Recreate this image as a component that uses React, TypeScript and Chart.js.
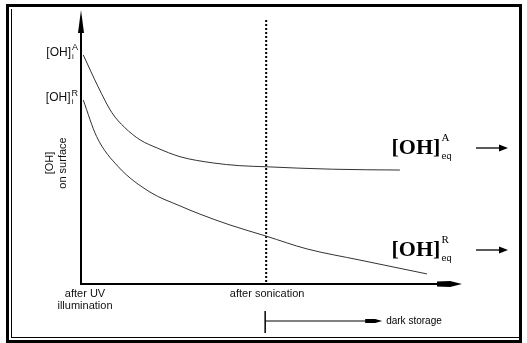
import React, { useEffect, useRef } from "react";
import { Chart, registerables } from "chart.js";

Chart.register(...registerables);

// ---- data (schematic, arbitrary units) ----
const timeA = [0.6, 4.5, 8.1, 11.5, 15.5, 20, 26, 34.7, 41.7, 48.7, 57, 66, 75, 83.7];
const ohSurfaceA = [84.2, 72.5, 63, 57.5, 53, 50, 46.8, 44.5, 43.5, 43.1, 42.6, 42.2, 42, 41.9];
const timeB = [0.6, 4.1, 9.8, 18.1, 26, 31.2, 39.1, 48.6, 59.3, 73.2, 90.8];
const ohSurfaceB = [67.6, 54.2, 43.1, 33.8, 28.7, 25.7, 21.7, 17.6, 12.9, 8.8, 3.7];

const sonicationTime = 48.6;
const xTickValues = [0, 48.6];
const xTickLabels = [["after UV", "illumination"], ["after sonication"]];
const yTickValues = [84.2, 67.6];
const yTickLabels = [
  { base: "[OH]", sub: "i", sup: "A" },
  { base: "[OH]", sub: "i", sup: "R" },
];
const eqLabels = [
  { base: "[OH]", sub: "eq", sup: "A" },
  { base: "[OH]", sub: "eq", sup: "R" },
];
const eqLabelValues = [50, 12.5];
const eqLabelTime = 81.5;
const yAxisTitle = ["[OH]", "on surface"];
const darkStorageLabel = "dark storage";

const SANS = '"Liberation Sans", Arial, sans-serif';
const SERIF = '"Liberation Serif", "Times New Roman", serif';

function drawComposite(
  ctx: CanvasRenderingContext2D,
  lab: { base: string; sub: string; sup: string },
  x: number,
  y: number,
  align: "left" | "right",
  baseFont: string,
  subFont: string,
  supFont: string,
  supDy: number,
  subDy: number
) {
  ctx.font = baseFont;
  const bw = ctx.measureText(lab.base).width;
  ctx.font = subFont;
  const sbw = ctx.measureText(lab.sub).width;
  ctx.font = supFont;
  const spw = ctx.measureText(lab.sup).width;
  const total = bw + 1 + Math.max(sbw, spw);
  const x0 = align === "right" ? x - total : x;
  ctx.textAlign = "left";
  ctx.textBaseline = "middle";
  ctx.font = baseFont;
  ctx.fillText(lab.base, x0, y);
  ctx.font = supFont;
  ctx.fillText(lab.sup, x0 + bw + 1, y + supDy);
  ctx.font = subFont;
  ctx.fillText(lab.sub, x0 + bw + 1, y + subDy);
  return x0 + total;
}

const diagramPlugin = {
  id: "diagram",
  beforeDraw(chart: any) {
    const ctx: CanvasRenderingContext2D = chart.ctx;
    const W = chart.width;
    const H = chart.height;
    ctx.save();
    ctx.fillStyle = "#fff";
    ctx.fillRect(0, 0, W, H);
    ctx.strokeStyle = "#000";
    ctx.lineWidth = 3;
    ctx.strokeRect(7.5, 5.5, W - 14, H - 7);
    ctx.lineWidth = 1;
    ctx.beginPath();
    ctx.moveTo(11.5, 9);
    ctx.lineTo(11.5, H - 5.5);
    ctx.moveTo(11, H - 5.5);
    ctx.lineTo(W - 8, H - 5.5);
    ctx.stroke();
    ctx.restore();
  },
  beforeDatasetsDraw(chart: any) {
    const ctx: CanvasRenderingContext2D = chart.ctx;
    const xs = chart.scales.x;
    const ys = chart.scales.y;
    const left = xs.getPixelForValue(0);
    const bottom = ys.getPixelForValue(0);
    const right = xs.getPixelForValue(100);
    const top = ys.getPixelForValue(100);
    ctx.save();
    ctx.fillStyle = "#000";
    ctx.strokeStyle = "#000";
    // dotted sonication line
    const sx = xs.getPixelForValue(sonicationTime);
    ctx.lineWidth = 2;
    ctx.setLineDash([2, 2]);
    ctx.beginPath();
    ctx.moveTo(sx, top + 8);
    ctx.lineTo(sx, bottom);
    ctx.stroke();
    ctx.setLineDash([]);
    // y axis
    ctx.lineWidth = 2;
    ctx.beginPath();
    ctx.moveTo(left, bottom + 1);
    ctx.lineTo(left, top + 18);
    ctx.stroke();
    ctx.beginPath();
    ctx.moveTo(left, top - 2);
    ctx.lineTo(left + 3, top + 21);
    ctx.lineTo(left - 3, top + 21);
    ctx.closePath();
    ctx.fill();
    // x axis
    ctx.beginPath();
    ctx.moveTo(left - 1, bottom);
    ctx.lineTo(right - 22, bottom);
    ctx.stroke();
    ctx.beginPath();
    ctx.moveTo(right - 25, bottom - 2.5);
    ctx.lineTo(right - 12, bottom - 3);
    ctx.lineTo(right, bottom);
    ctx.lineTo(right - 12, bottom + 3);
    ctx.lineTo(right - 25, bottom + 2.5);
    ctx.closePath();
    ctx.fill();
    ctx.restore();
  },
  afterDatasetsDraw(chart: any) {
    const ctx: CanvasRenderingContext2D = chart.ctx;
    const xs = chart.scales.x;
    const ys = chart.scales.y;
    const left = xs.getPixelForValue(0);
    const bottom = ys.getPixelForValue(0);
    ctx.save();
    ctx.fillStyle = "#111";
    ctx.strokeStyle = "#000";
    // y tick labels
    yTickLabels.forEach((lab, i) => {
      const y = ys.getPixelForValue(yTickValues[i]);
      drawComposite(ctx, lab, left - 3, y - 2, "right", `12px ${SANS}`, `8px ${SANS}`, `9px ${SANS}`, -5, 4);
    });
    // y axis title (rotated)
    ctx.save();
    ctx.translate(57, 163);
    ctx.rotate(-Math.PI / 2);
    ctx.textAlign = "center";
    ctx.textBaseline = "middle";
    ctx.font = `11px ${SANS}`;
    ctx.fillText(yAxisTitle[0], 0, -7);
    ctx.fillText(yAxisTitle[1], 0, 6);
    ctx.restore();
    // x tick labels
    ctx.textAlign = "center";
    ctx.textBaseline = "middle";
    ctx.font = `11px ${SANS}`;
    xTickLabels.forEach((lines, i) => {
      const x = xs.getPixelForValue(xTickValues[i]) + (i === 0 ? 4 : 1);
      lines.forEach((t, j) => ctx.fillText(t, x, bottom + 10 + j * 12));
    });
    // right-hand equilibrium labels with arrows
    eqLabels.forEach((lab, i) => {
      const x = xs.getPixelForValue(eqLabelTime);
      const y = ys.getPixelForValue(eqLabelValues[i]);
      ctx.fillStyle = "#000";
      drawComposite(ctx, lab, x, y, "left", `bold 22px ${SERIF}`, `9px ${SANS}`, `11px ${SERIF}`, -10, 9);
      ctx.lineWidth = 1.3;
      ctx.beginPath();
      ctx.moveTo(476, y);
      ctx.lineTo(500, y);
      ctx.stroke();
      ctx.beginPath();
      ctx.moveTo(508, y);
      ctx.lineTo(499, y - 3.5);
      ctx.lineTo(499, y + 3.5);
      ctx.closePath();
      ctx.fill();
    });
    // dark storage marker
    const sx = xs.getPixelForValue(sonicationTime) - 1;
    const dy = bottom + 37;
    ctx.lineWidth = 1.5;
    ctx.beginPath();
    ctx.moveTo(sx, dy - 10);
    ctx.lineTo(sx, dy + 12);
    ctx.stroke();
    ctx.lineWidth = 1;
    ctx.beginPath();
    ctx.moveTo(sx, dy);
    ctx.lineTo(sx + 106, dy);
    ctx.stroke();
    ctx.beginPath();
    ctx.moveTo(sx + 100, dy - 2);
    ctx.lineTo(sx + 110, dy - 2);
    ctx.lineTo(sx + 117, dy);
    ctx.lineTo(sx + 110, dy + 2);
    ctx.lineTo(sx + 100, dy + 2);
    ctx.closePath();
    ctx.fill();
    ctx.textAlign = "left";
    ctx.textBaseline = "middle";
    ctx.font = `10px ${SANS}`;
    ctx.fillText(darkStorageLabel, sx + 121, dy);
    ctx.restore();
  },
};

export default function App() {
  const ref = useRef<HTMLCanvasElement | null>(null);
  useEffect(() => {
    if (!ref.current) return;
    const chart = new Chart(ref.current, {
      type: "line",
      data: {
        datasets: [
          {
            label: "A",
            data: timeA.map((t, i) => ({ x: t, y: ohSurfaceA[i] })),
            borderColor: "#333",
            borderWidth: 1,
            pointRadius: 0,
            cubicInterpolationMode: "monotone",
          },
          {
            label: "R",
            data: timeB.map((t, i) => ({ x: t, y: ohSurfaceB[i] })),
            borderColor: "#333",
            borderWidth: 1,
            pointRadius: 0,
            cubicInterpolationMode: "monotone",
          },
        ],
      },
      options: {
        animation: false,
        responsive: false,
        devicePixelRatio: 1,
        layout: { padding: { left: 81, right: 65, top: 12, bottom: 59 } },
        plugins: { legend: { display: false }, tooltip: { enabled: false } },
        scales: {
          x: { type: "linear", min: 0, max: 100, display: false },
          y: { type: "linear", min: 0, max: 100, display: false },
        },
      },
      plugins: [diagramPlugin],
    } as any);
    return () => chart.destroy();
  }, []);
  return (
    <div style={{ position: "fixed", left: 0, top: 0, width: 527, height: 343, background: "#fff" }}>
      <canvas ref={ref} width={527} height={343} style={{ display: "block" }} />
    </div>
  );
}
